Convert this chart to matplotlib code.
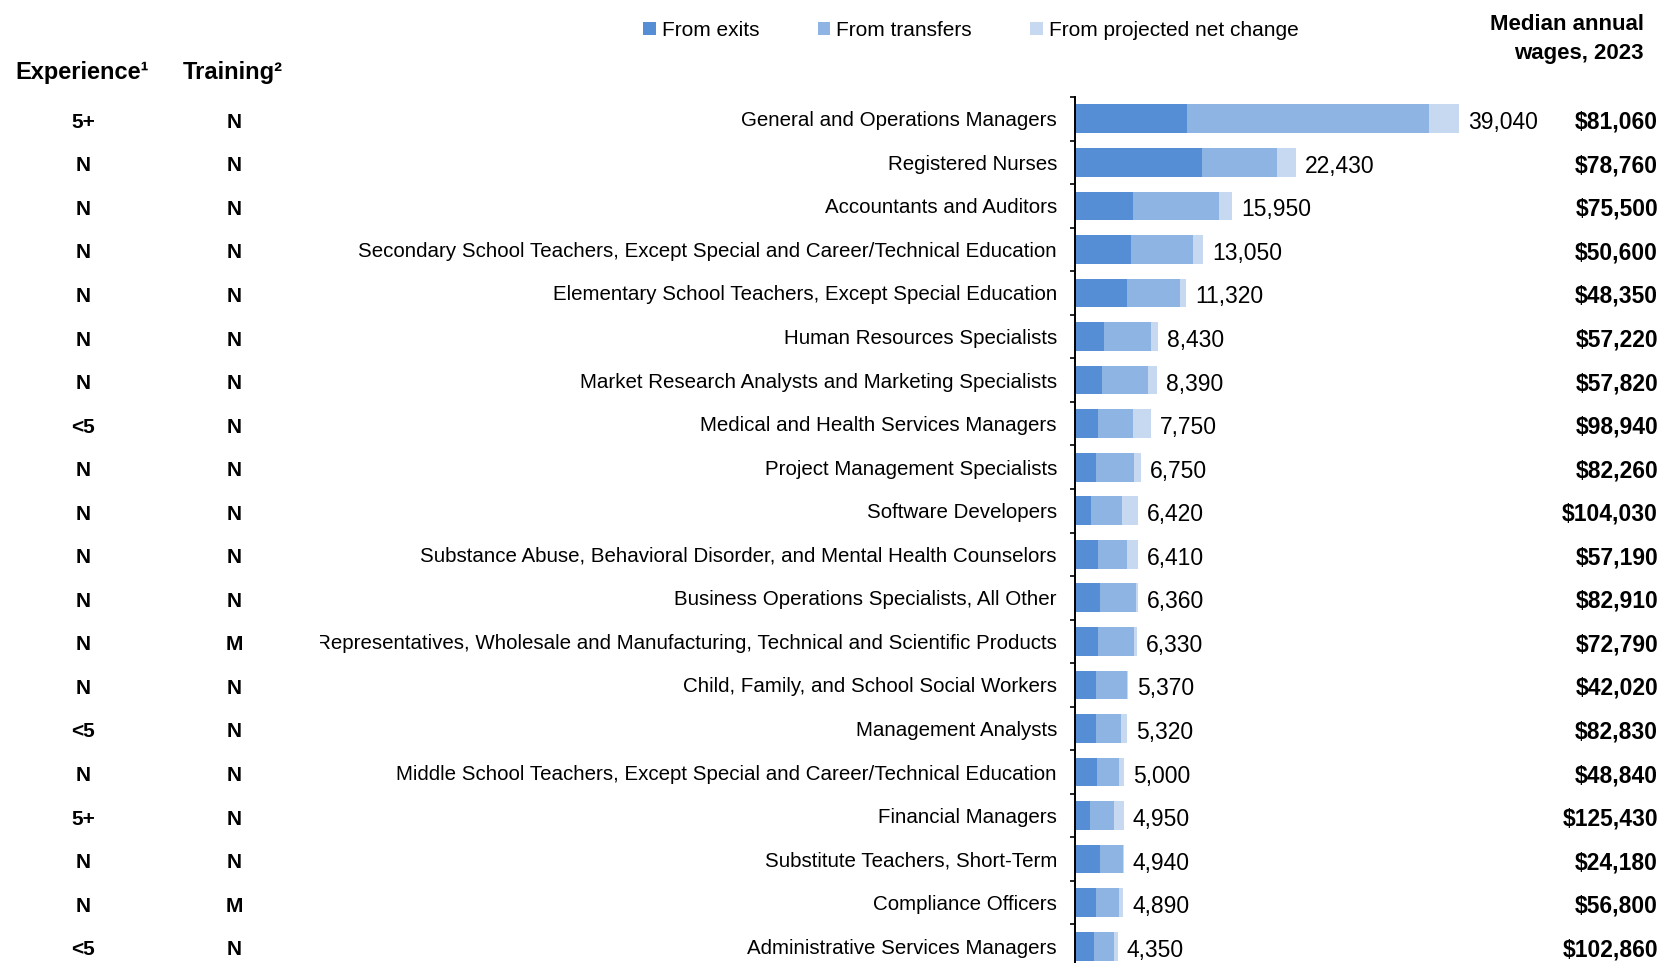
import matplotlib
matplotlib.use("Agg")
import matplotlib.pyplot as plt
import matplotlib.transforms as mtransforms

plt.rcParams['font.family'] = ['Liberation Sans', 'DejaVu Sans']

# colors
c_exit = "#558ED5"
c_trans = "#8EB4E3"
c_net = "#C6D9F1"

# data, top row first
occupations = [
    "General and Operations Managers",
    "Registered Nurses",
    "Accountants and Auditors",
    "Secondary School Teachers, Except Special and Career/Technical Education",
    "Elementary School Teachers, Except Special Education",
    "Human Resources Specialists",
    "Market Research Analysts and Marketing Specialists",
    "Medical and Health Services Managers",
    "Project Management Specialists",
    "Software Developers",
    "Substance Abuse, Behavioral Disorder, and Mental Health Counselors",
    "Business Operations Specialists, All Other",
    "Sales Representatives, Wholesale and Manufacturing, Technical and Scientific Products",
    "Child, Family, and School Social Workers",
    "Management Analysts",
    "Middle School Teachers, Except Special and Career/Technical Education",
    "Financial Managers",
    "Substitute Teachers, Short-Term",
    "Compliance Officers",
    "Administrative Services Managers",
]
exits = [11400, 12890, 5940, 5730, 5280, 2900, 2750, 2390, 2160, 1600,
         2360, 2510, 2300, 2150, 2130, 2280, 1550, 2570, 2110, 1920]
transfers = [24640, 7670, 8710, 6230, 5390, 4800, 4720, 3520, 3890, 3160,
             2950, 3720, 3720, 3110, 2580, 2200, 2430, 2290, 2400, 2080]
net_change = [3000, 1870, 1300, 1090, 650, 730, 920, 1840, 700, 1660,
              1100, 130, 310, 110, 610, 520, 970, 80, 380, 350]
totals = [39040, 22430, 15950, 13050, 11320, 8430, 8390, 7750, 6750, 6420,
          6410, 6360, 6330, 5370, 5320, 5000, 4950, 4940, 4890, 4350]
wages = [81060, 78760, 75500, 50600, 48350, 57220, 57820, 98940, 82260, 104030,
         57190, 82910, 72790, 42020, 82830, 48840, 125430, 24180, 56800, 102860]
experience = ["5+", "N", "N", "N", "N", "N", "N", "<5", "N", "N",
              "N", "N", "N", "N", "<5", "N", "5+", "N", "N", "<5"]
training = ["N", "N", "N", "N", "N", "N", "N", "N", "N", "N",
            "N", "N", "M", "N", "N", "N", "N", "N", "M", "N"]

W, H = 1661, 963
fig = plt.figure(figsize=(W / 100, H / 100), dpi=100)
ax = fig.add_axes([1075 / W, -5 / H, (W - 1075) / W, 871 / H])

pos = list(range(len(occupations)))
left2 = [a + b for a, b in zip(exits, transfers)]
b1 = ax.barh(pos, exits, height=0.66, color=c_exit, label="From exits")
b2 = ax.barh(pos, transfers, left=exits, height=0.66, color=c_trans, label="From transfers")
b3 = ax.barh(pos, net_change, left=left2, height=0.66, color=c_net,
             label="From projected net change")

ax.set_xlim(0, 59600)
ax.set_ylim(len(pos) - 0.5, -0.5)

# spines
for s in ['top', 'right', 'bottom']:
    ax.spines[s].set_visible(False)
ax.spines['left'].set_color('black')
ax.spines['left'].set_linewidth(1.4)
ax.xaxis.set_visible(False)

# category labels + boundary ticks
ax.set_yticks(pos)
labels = ax.set_yticklabels(occupations, fontsize=14.8)
ax.tick_params(axis='y', which='major', length=0, pad=13)
ax.set_yticks([p - 0.5 for p in pos] + [len(pos) - 0.5], minor=True)
ax.tick_params(axis='y', which='minor', length=3.6, width=1.2, color='black')

# the long label is cut at the left in the original
clip = mtransforms.TransformedBbox(
    mtransforms.Bbox([[320 / W, 0], [1, 1]]), fig.transFigure)
for t in labels:
    t.set_clip_box(clip)
    t.set_clip_on(True)

# total labels
for i, t in enumerate(totals):
    ax.annotate(f"{t:,}", xy=(t, i), xytext=(9, -4), textcoords='offset pixels',
                va='center', ha='left', fontsize=16.5)

# side columns
tr = mtransforms.blended_transform_factory(fig.transFigure, ax.transData)
tr = tr + mtransforms.ScaledTranslation(0, -3.5 / 100, fig.dpi_scale_trans)
for i in pos:
    fig.text(1658 / W, i, f"${wages[i]:,}", transform=tr, ha='right', va='center',
             fontsize=16.5, fontweight='bold')
    fig.text(83 / W, i, experience[i], transform=tr, ha='center', va='center',
             fontsize=15, fontweight='bold')
    fig.text(234 / W, i, training[i], transform=tr, ha='center', va='center',
             fontsize=15, fontweight='bold')

# headers
fig.text(82 / W, 1 - 73 / H, "Experience\u00b9", ha='center', va='center',
         fontsize=17, fontweight='bold')
fig.text(233 / W, 1 - 73 / H, "Training\u00b2", ha='center', va='center',
         fontsize=17, fontweight='bold')
fig.text(1644 / W, 1 - 24 / H, "Median annual", ha='right', va='center',
         fontsize=16, fontweight='bold')
fig.text(1644 / W, 1 - 54 / H, "wages, 2023", ha='right', va='center',
         fontsize=16, fontweight='bold')

# legend
fig.legend(handles=[b1, b2, b3], loc='center', ncol=3, frameon=False,
           bbox_to_anchor=(971 / W, 1 - 30 / H),
           handlelength=0.6, handleheight=0.6, handletextpad=0.3,
           columnspacing=2.8, prop={'size': 15})

fig.savefig("out.png", dpi=100)
